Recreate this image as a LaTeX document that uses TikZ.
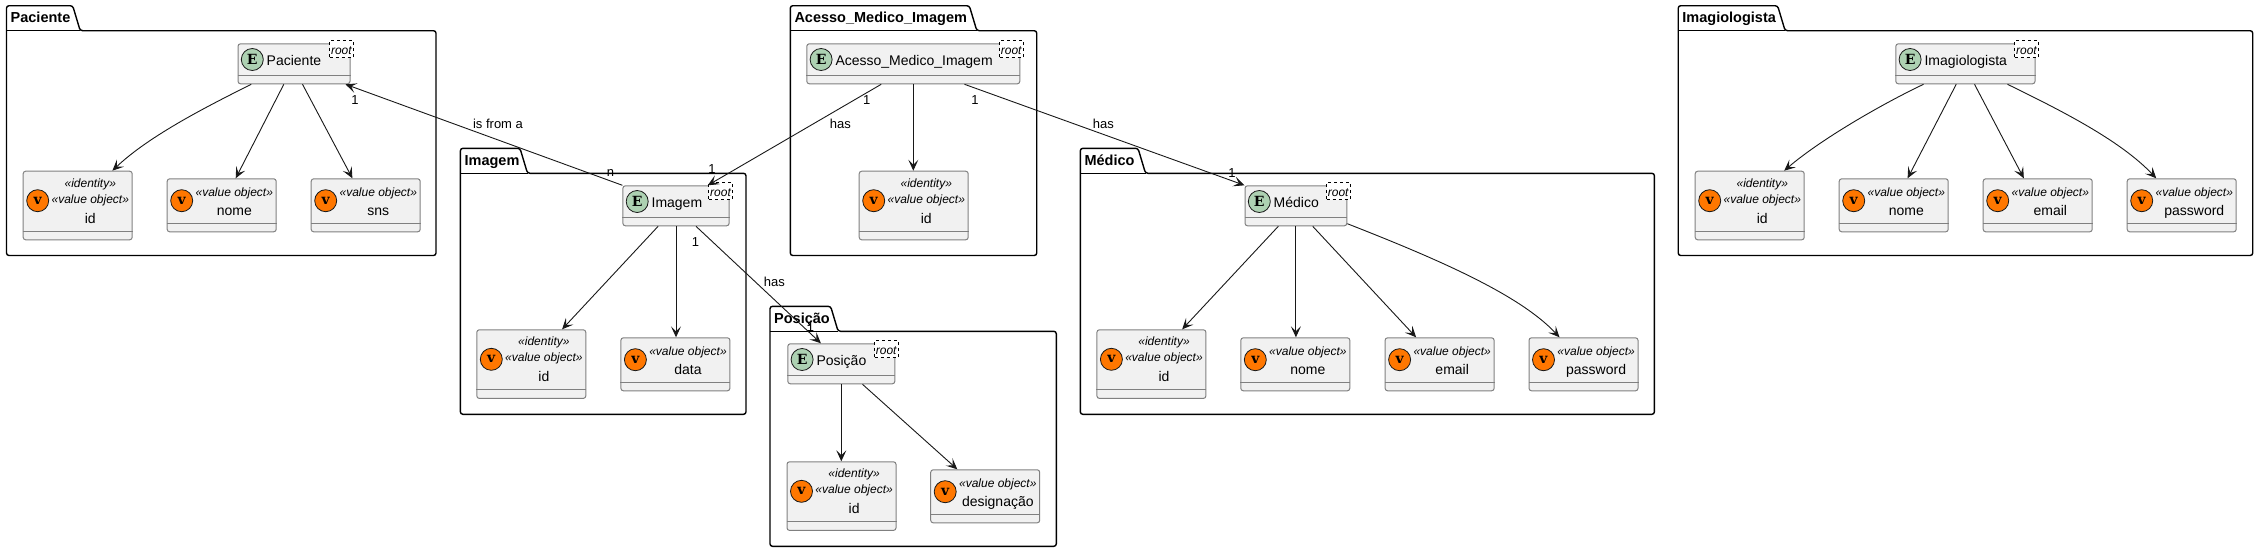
\documentclass[tikz,border=0pt]{standalone}
\usepackage{fontspec}
\setmainfont{Liberation Sans}
\newfontfamily\spotfont{DejaVu Serif}
\usetikzlibrary{arrows.meta}
\definecolor{boxfill}{HTML}{F1F1F1}
\definecolor{boxedge}{HTML}{808080}
\definecolor{spotE}{HTML}{ADD1B2}
\definecolor{spotV}{HTML}{FF7700}
\definecolor{linkcol}{HTML}{181818}
\tikzset{
  pkgline/.style={line width=1.4pt, black, rounded corners=2.5pt},
  pkgtitle/.style={anchor=base west, inner sep=0pt, font=\fontsize{14.5}{16}\selectfont\bfseries},
  entbox/.style={draw=boxedge, fill=boxfill, line width=1pt, rounded corners=2.5pt, anchor=north west, minimum height=40pt, inner sep=0pt},
  vobox/.style={draw=boxedge, fill=boxfill, line width=1pt, rounded corners=2.5pt, anchor=north west, minimum width=109pt, inner sep=0pt},
  sepline/.style={draw=boxedge, line width=1pt},
  spot/.style={circle, draw=linkcol, line width=0.8pt, minimum size=22pt, inner sep=0pt, font=\fontsize{14}{14}\selectfont\spotfont\bfseries},
  enttext/.style={anchor=base west, inner sep=0pt, font=\fontsize{14}{16}\selectfont},
  votext/.style={anchor=base, inner sep=0pt, font=\fontsize{14}{16}\selectfont},
  stereo/.style={anchor=base, inner sep=0pt, font=\fontsize{12}{14}\selectfont\itshape},
  roottag/.style={draw=black, fill=white, dashed, line width=0.8pt, anchor=north east, minimum width=23.4pt, minimum height=17.4pt, inner sep=0pt, text height=12pt, text depth=1.4pt, font=\fontsize{12}{14}\selectfont\itshape},
  link/.style={draw=linkcol, line width=0.9pt, -{Stealth[length=11pt, width=10pt, inset=5pt]}},
  lbl/.style={inner sep=0pt, font=\fontsize{13}{15}\selectfont},
}
% name, left, top, tab right, right, bottom, title
\newcommand{\pkgframe}[7]{
  \draw[pkgline] (#2, {#3 + 25}) -- (#2, #3) -- (#4, #3) -- ({#4 + 7.5}, {#3 + 25}) -- (#5, {#3 + 25}) -- (#5, #6) -- (#2, #6) -- cycle;
  \draw[line width=1.4pt, black] (#2, {#3 + 25}) -- ({#4 + 7.5}, {#3 + 25});
  \node[pkgtitle] (#1) at ({#2 + 4}, {#3 + 17}) {#7};
}
% name, left, top, width, text
\newcommand{\aggroot}[5]{
  \node[entbox, minimum width=#4] (#1) at (#2, #3) {};
  \draw[sepline] ([yshift=-32]#1.north west) -- ([yshift=-32]#1.north east);
  \node[spot, fill=spotE] (#1C) at ([xshift=14.8, yshift=-16.2]#1.north west) {E};
  \node[enttext] (#1L) at ([xshift=29, yshift=-21.7]#1.north west) {#5};
  \node[roottag] (#1R) at ([xshift=3, yshift=3.3]#1.north east) {root};
}
% name, left, top
\newcommand{\idbox}[3]{
  \node[vobox, minimum height=68.6pt] (#1) at (#2, #3) {};
  \draw[sepline] ([yshift=-60.6]#1.north west) -- ([yshift=-60.6]#1.north east);
  \node[spot, fill=spotV] (#1C) at ([xshift=15, yshift=-30]#1.north west) {v};
  \node[stereo] (#1A) at ([xshift=67.6, yshift=-16.6]#1.north west) {«identity»};
  \node[stereo] (#1B) at ([xshift=67.6, yshift=-32.6]#1.north west) {«value object»};
  \node[votext] (#1L) at ([xshift=67.6, yshift=-52.5]#1.north west) {id};
}
% name, left, top, text
\newcommand{\valbox}[4]{
  \node[vobox, minimum height=53pt] (#1) at (#2, #3) {};
  \draw[sepline] ([yshift=-45]#1.north west) -- ([yshift=-45]#1.north east);
  \node[spot, fill=spotV] (#1C) at ([xshift=15, yshift=-22.4]#1.north west) {v};
  \node[stereo] (#1B) at ([xshift=67.6, yshift=-17.7]#1.north west) {«value object»};
  \node[votext] (#1L) at ([xshift=67.6, yshift=-36.7]#1.north west) {#4};
}
\begin{document}
\begin{tikzpicture}[x=1pt, y=-1pt]
    \useasboundingbox (0, 0) rectangle (2258, 552);
    % packages
    \pkgframe{pacT}{6.5}{5.7}{72.7}{436}{255.5}{Paciente}
    \pkgframe{imgT}{460.4}{148.3}{520}{746}{414.3}{Imagem}
    \pkgframe{posT}{770}{306.3}{830.6}{1056.3}{546.3}{Posição}
    \pkgframe{aceT}{790.3}{5.7}{969.3}{1036.7}{255.5}{Acesso\_Medico\_Imagem}
    \pkgframe{medT}{1080.3}{148.3}{1138}{1654.4}{414.3}{Médico}
    \pkgframe{igT}{1678.2}{5.7}{1777.6}{2252.7}{255.5}{Imagiologista}
    % paciente
    \aggroot{pacE}{237.5}{43.3}{112}{Paciente}
    \idbox{pacI}{22.7}{170.7}
    \valbox{pacN}{166.7}{178.3}{nome}
    \valbox{pacS}{310.7}{178.3}{sns}
    % imagem
    \aggroot{imgE}{622.4}{185.3}{106.2}{Imagem}
    \idbox{imgI}{476.3}{329.3}
    \valbox{imgD}{620.4}{337.3}{data}
    % posicao
    \aggroot{posE}{787.3}{343.3}{107}{Posição}
    \idbox{posI}{786.5}{461.3}
    \valbox{posD}{930.2}{469.3}{designação}
    % acesso
    \aggroot{aceE}{806.3}{43.3}{213}{Acesso\_Medico\_Imagem}
    \idbox{aceI}{858.7}{170.7}
    % medico
    \aggroot{medE}{1244.5}{185.3}{101.8}{Médico}
    \idbox{medI}{1096.4}{329.3}
    \valbox{medN}{1240.3}{337.3}{nome}
    \valbox{medM}{1384.6}{337.3}{email}
    \valbox{medP}{1528.5}{337.3}{password}
    % imagiologista
    \aggroot{igE}{1895.3}{43.3}{139.2}{Imagiologista}
    \idbox{igI}{1694.7}{170.7}
    \valbox{igN}{1838.7}{178.3}{nome}
    \valbox{igM}{1982.7}{178.3}{email}
    \valbox{igP}{2126.7}{178.3}{password}
    % links paciente
    \draw[link] ([xshift=-42.8]pacE.south) .. controls (210, 105) and (150, 135) .. ([xshift=34.7]pacI.north);
    \draw[link] ([xshift=-10.2]pacE.south) -- ([xshift=14]pacN.north);
    \draw[link] ([xshift=8.5]pacE.south) -- ([xshift=-13.3]pacS.north);
    % links imagem
    \draw[link] (imgE.north west) -- ([xshift=51.5]pacE.south);
    \draw[link] ([xshift=-17.9]imgE.south) -- ([xshift=30.8]imgI.north);
    \draw[link] (imgE.south) -- (imgE.south |- imgD.north);
    \draw[link] ([xshift=20]imgE.south) -- ([xshift=-20.4]posE.north);
    % links posicao
    \draw[link] (posE.south) -- (posE.south |- posI.north);
    \draw[link] ([xshift=21.2]posE.south) -- ([xshift=-27.9]posD.north);
    % links acesso
    \draw[link] ([xshift=-32.1]aceE.south) -- ([xshift=31.8]imgE.north);
    \draw[link] (aceE.south) -- (aceE.south |- aceI.north);
    \draw[link] ([xshift=51.2]aceE.south) -- (medE.north west);
    % links medico
    \draw[link] ([xshift=-17.6]medE.south) -- ([xshift=30.8]medI.north);
    \draw[link] (medE.south) -- (medE.south |- medN.north);
    \draw[link] ([xshift=16.8]medE.south) -- ([xshift=-23.5]medM.north);
    \draw[link] ([yshift=2.6]medE.south east) .. controls (1440, 260) and (1520, 295) .. ([xshift=-24]medP.north);
    % links imagiologista
    \draw[link] ([xshift=-41.9]igE.south) .. controls (1880, 105) and (1820, 140) .. ([xshift=34.5]igI.north);
    \draw[link] ([xshift=-9.2]igE.south) -- ([xshift=13.9]igN.north);
    \draw[link] ([xshift=9.1]igE.south) -- ([xshift=-13.9]igM.north);
    \draw[link] ([xshift=42.1]igE.south) .. controls (2060, 110) and (2120, 140) .. ([xshift=-25.5]igP.north);
    % labels
    \node[lbl] (lblPac) at (355, 100) {1};
    \node[lbl] (lblFrom) at (498, 124) {is from a};
    \node[lbl] (lblN) at (610.6, 172.7) {n};
    \node[lbl] (lblImgA) at (712, 169.3) {1};
    \node[lbl] (lblAceL) at (866.7, 100) {1};
    \node[lbl] (lblHasL) at (840.3, 123.7) {has};
    \node[lbl] (lblAceR) at (975, 100) {1};
    \node[lbl] (lblHasR) at (1103.3, 123.7) {has};
    \node[lbl] (lblMed) at (1232, 173) {1};
    \node[lbl] (lblImgB) at (695.5, 242.3) {1};
    \node[lbl] (lblHasP) at (774.3, 282.3) {has};
    \node[lbl] (lblPos) at (810.6, 326.7) {1};
\end{tikzpicture}
\end{document}
